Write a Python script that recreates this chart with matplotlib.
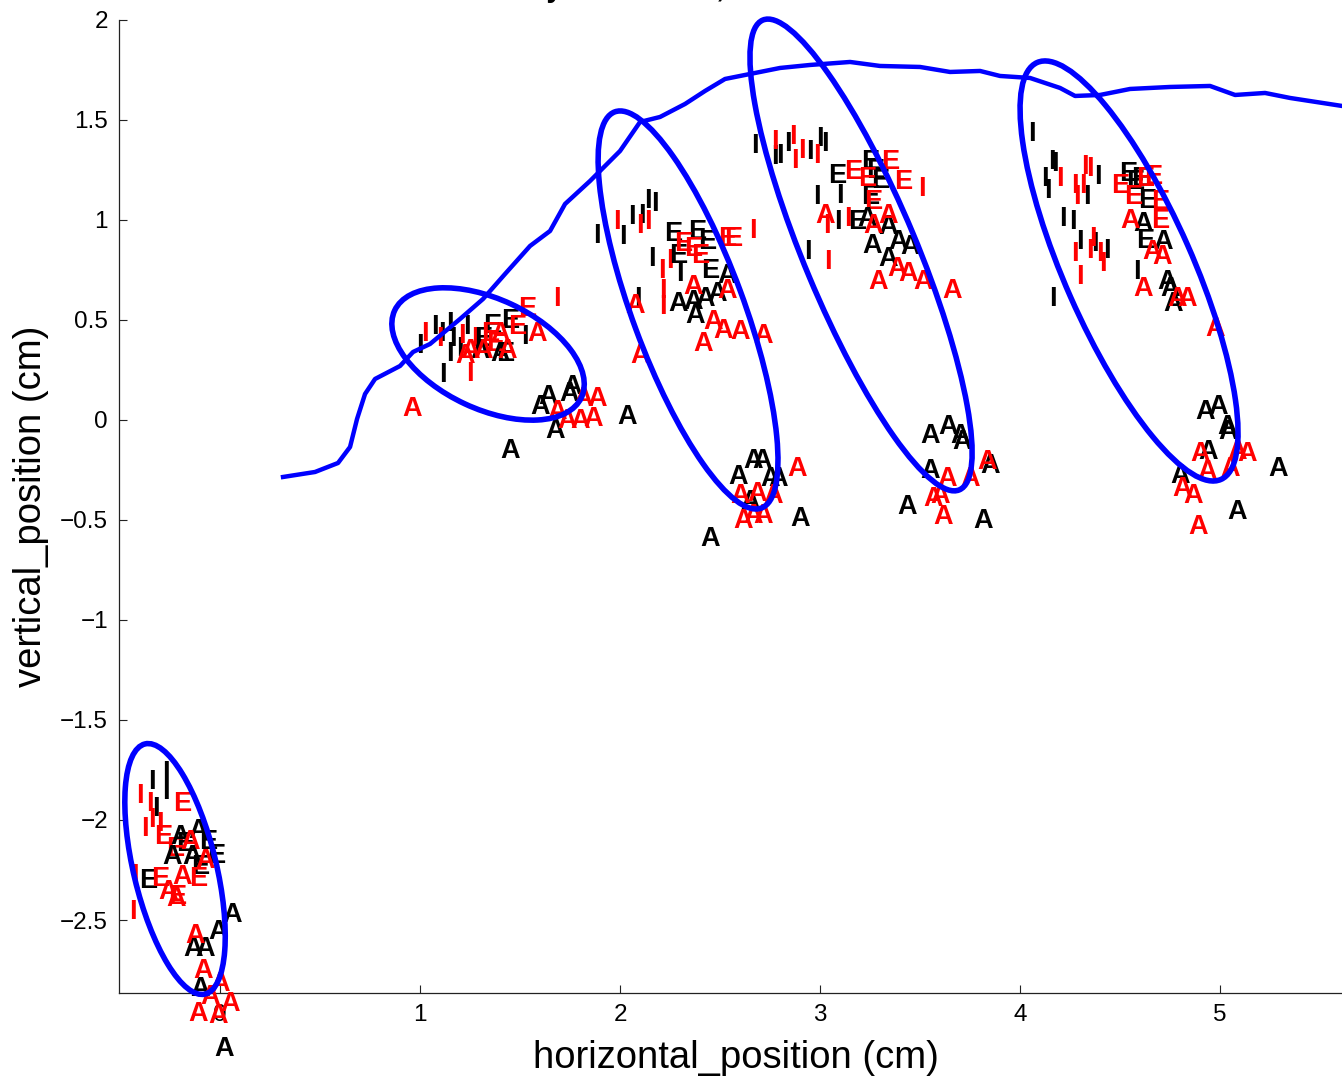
import numpy as np
import matplotlib
matplotlib.use("Agg")
import matplotlib.pyplot as plt
from matplotlib.patches import Ellipse

plt.rcParams['font.family'] = ['Liberation Sans', 'DejaVu Sans']

# blue tongue-body trajectory
traj_x = [0.315, 0.475, 0.59, 0.65, 0.685, 0.725, 0.775, 0.90, 0.965, 1.05, 1.20, 1.315,
          1.425, 1.55, 1.65, 1.725, 1.85, 2.0, 2.10, 2.20, 2.325, 2.425, 2.525, 2.65,
          2.80, 2.95, 3.15, 3.30, 3.50, 3.65, 3.80, 3.90, 4.05, 4.20, 4.275, 4.40,
          4.55, 4.75, 4.95, 5.075, 5.225, 5.35, 5.61, 5.70]
traj_y = [-0.285, -0.26, -0.215, -0.135, 0.005, 0.13, 0.205, 0.27, 0.34, 0.38, 0.505, 0.605,
          0.73, 0.87, 0.945, 1.08, 1.195, 1.345, 1.49, 1.515, 1.58, 1.645, 1.705, 1.73,
          1.76, 1.775, 1.79, 1.77, 1.765, 1.74, 1.745, 1.72, 1.71, 1.66, 1.62, 1.625,
          1.655, 1.665, 1.67, 1.625, 1.635, 1.61, 1.57, 1.56]

# ellipses: centre, semi-axes, angle (deg)
ell_cx = [-0.225, 1.34, 2.34, 3.205, 4.545]
ell_cy = [-2.245, 0.33, 0.55, 0.825, 0.745]
ell_a = [0.643, 0.515, 1.056, 1.273, 1.139]
ell_b = [0.207, 0.275, 0.278, 0.281, 0.32]
ell_ang = [103.5, -25.0, 110.3, 112.7, 113.8]

black_I = [(-0.34, -1.81), (-0.27, -1.765), (-0.27, -1.86), (-0.32, -1.945),
           (1.0, 0.37), (1.075, 0.465), (1.11, 0.43), (1.15, 0.48), (1.165, 0.405), (1.235, 0.465),
           (1.115, 0.225), (1.15, 0.33), (1.525, 0.415), (1.2, 0.355),
           (1.885, 0.92), (2.015, 0.915), (2.06, 1.015), (2.11, 1.02), (2.14, 1.095), (2.175, 1.08),
           (2.16, 0.805), (2.09, 0.605), (2.30, 0.73),
           (2.675, 1.37), (2.775, 1.315), (2.80, 1.32), (2.84, 1.38), (2.95, 1.34), (3.0, 1.405),
           (3.025, 1.38), (2.985, 1.115), (3.10, 1.12), (3.09, 0.99), (2.94, 0.84),
           (4.06, 1.43), (4.16, 1.29), (4.175, 1.28), (4.125, 1.205), (4.14, 1.145), (4.335, 1.115),
           (4.39, 1.215), (4.215, 1.005), (4.265, 0.99), (4.30, 0.89), (4.375, 0.88), (4.435, 0.845),
           (4.585, 0.74), (4.165, 0.605)]
red_I = [(-0.40, -1.88), (-0.35, -1.92), (-0.375, -2.045), (-0.30, -2.02), (-0.425, -2.28),
         (-0.435, -2.46), (-0.34, -2.0),
         (1.025, 0.43), (1.10, 0.405), (1.21, 0.42), (1.25, 0.23), (1.685, 0.605), (1.275, 0.405),
         (1.985, 0.99), (2.10, 0.97), (2.14, 0.99), (2.21, 0.745), (2.215, 0.645), (2.215, 0.565),
         (2.665, 0.945), (2.25, 0.795),
         (2.775, 1.39), (2.865, 1.415), (2.875, 1.295), (2.91, 1.345), (2.985, 1.32), (3.51, 1.155),
         (3.035, 0.97), (3.14, 1.005), (3.04, 0.79),
         (4.20, 1.205), (4.275, 1.17), (4.325, 1.265), (4.35, 1.255), (4.315, 1.17), (4.285, 1.115),
         (4.275, 0.83), (4.35, 0.845), (4.365, 0.905), (4.40, 0.83), (4.415, 0.78), (4.30, 0.715)]
black_E = [(-0.06, -2.11), (-0.02, -2.18), (-0.10, -2.235), (-0.36, -2.305), (-0.175, -2.12),
           (1.36, 0.47), (1.45, 0.495), (1.425, 0.33), (1.315, 0.405),
           (2.265, 0.93), (2.385, 0.94), (2.29, 0.82), (2.435, 0.89), (2.45, 0.745),
           (3.085, 1.22), (3.25, 1.29), (3.30, 1.195), (3.25, 1.115), (3.275, 1.245), (3.185, 0.99),
           (4.54, 1.23), (4.575, 1.19), (4.635, 1.095), (4.60, 1.205), (4.625, 0.895)]
red_E = [(-0.19, -1.92), (-0.285, -2.085), (-0.225, -2.145), (-0.30, -2.295), (-0.215, -2.385),
         (-0.11, -2.295),
         (1.535, 0.555), (1.485, 0.465), (1.35, 0.43), (1.375, 0.38),
         (2.315, 0.88), (2.365, 0.855), (2.40, 0.82), (2.535, 0.905), (2.565, 0.905),
         (3.165, 1.24), (3.235, 1.205), (3.35, 1.29), (3.415, 1.19), (3.265, 1.09),
         (4.50, 1.17), (4.625, 1.205), (4.665, 1.215), (4.565, 1.115), (4.70, 1.09), (4.70, 0.995)]
black_A = [(-0.20, -2.085), (-0.11, -2.055), (-0.24, -2.185), (-0.14, -2.185), (-0.135, -2.645),
           (-0.075, -2.645), (-0.01, -2.56), (0.06, -2.475), (-0.10, -2.845), (0.02, -3.145),
           (1.30, 0.345), (1.40, 0.33), (1.64, 0.115), (1.60, 0.065), (1.76, 0.165), (1.745, 0.13),
           (1.675, -0.055), (1.45, -0.155), (2.035, 0.015),
           (2.535, 0.72), (2.29, 0.58), (2.365, 0.59), (2.425, 0.605), (2.485, 0.63), (2.375, 0.52),
           (2.665, -0.205), (2.71, -0.205), (2.59, -0.285), (2.75, -0.295), (2.79, -0.295),
           (2.65, -0.41), (2.90, -0.495), (2.45, -0.595),
           (3.235, 1.005), (3.34, 0.965), (3.26, 0.87), (3.39, 0.89), (3.45, 0.865), (3.34, 0.805),
           (3.55, -0.08), (3.64, -0.035), (3.70, -0.08), (3.71, -0.11), (3.85, -0.23), (3.55, -0.255),
           (3.435, -0.435), (3.815, -0.505),
           (4.615, 0.98), (4.715, 0.89), (4.735, 0.69), (4.75, 0.655), (4.765, 0.58), (4.925, 0.04),
           (4.99, 0.065), (5.035, -0.035), (5.04, -0.06), (4.94, -0.16), (4.80, -0.28),
           (5.085, -0.46), (5.29, -0.245)]
red_A = [(-0.15, -2.11), (-0.19, -2.285), (-0.26, -2.36), (-0.22, -2.395), (-0.125, -2.58),
         (-0.085, -2.755), (0.0, -2.82), (0.05, -2.92), (-0.05, -2.885), (-0.11, -2.97),
         (-0.01, -2.98), (-0.075, -2.205),
         (1.315, 0.345), (1.435, 0.345), (1.40, 0.43), (1.25, 0.345), (1.585, 0.43), (1.225, 0.32),
         (0.96, 0.055), (1.815, 0.105), (1.885, 0.105), (1.735, -0.005), (1.80, -0.005),
         (1.865, 0.005), (1.685, 0.04),
         (2.365, 0.665), (2.535, 0.645), (2.075, 0.57), (2.465, 0.49), (2.515, 0.445), (2.60, 0.44),
         (2.715, 0.42), (2.415, 0.38), (2.10, 0.32), (2.885, -0.245), (2.60, -0.38), (2.685, -0.37),
         (2.765, -0.38), (2.615, -0.505), (2.665, -0.48), (2.715, -0.48),
         (3.025, 1.02), (3.265, 0.97), (3.34, 1.02), (3.385, 0.755), (3.44, 0.73), (3.515, 0.69),
         (3.29, 0.69), (3.66, 0.645), (3.835, -0.21), (3.635, -0.295), (3.75, -0.295),
         (3.565, -0.395), (3.60, -0.38), (3.615, -0.485),
         (4.55, 0.995), (4.66, 0.84), (4.71, 0.815), (4.615, 0.655), (4.785, 0.605), (4.835, 0.605),
         (4.975, 0.455), (4.90, -0.17), (5.085, -0.16), (5.135, -0.17), (4.935, -0.26),
         (5.05, -0.245), (4.81, -0.345), (4.865, -0.38), (4.89, -0.535)]

fig = plt.figure(figsize=(13.42, 10.79), dpi=100)
ax = fig.add_axes([0.0887, 0.0797, 0.9188, 0.9018])

groups = [(black_I, 'I', 'black'), (red_I, 'I', 'red'),
          (black_E, 'E', 'black'), (red_E, 'E', 'red'),
          (black_A, 'A', 'black'), (red_A, 'A', 'red')]
for pts, letter, col in groups:
    for x, y in pts:
        ax.text(x, y, letter, color=col, fontsize=19.5, fontweight='bold',
                ha='center', va='center', clip_on=False, zorder=3)

ax.plot(traj_x, traj_y, color='#0000ff', lw=3.2, zorder=4, clip_on=False)
for cx, cy, a, b, ang in zip(ell_cx, ell_cy, ell_a, ell_b, ell_ang):
    ax.add_patch(Ellipse((cx, cy), 2 * a, 2 * b, angle=ang, fill=False,
                         edgecolor='#0000ff', lw=4, zorder=5, clip_on=False))

ax.set_xlim(-0.505, 5.66)
ax.set_ylim(-2.865, 2.0)
ax.set_xticks([0, 1, 2, 3, 4, 5])
ax.set_yticks(np.arange(-2.5, 2.01, 0.5))
ax.set_yticklabels(['\u22122.5', '\u22122', '\u22121.5', '\u22121', '\u22120.5',
                    '0', '0.5', '1', '1.5', '2'])
ax.tick_params(direction='in', length=6, width=0.8, labelsize=17.5, colors='#222222',
               labelcolor='black', pad=8)
for s in ['top', 'right']:
    ax.spines[s].set_visible(False)
for s in ['left', 'bottom']:
    ax.spines[s].set_color('#222222')
    ax.spines[s].set_linewidth(0.9)

ax.set_xlabel('horizontal_position (cm)', fontsize=27.5, labelpad=10)
ax.set_ylabel('vertical_position (cm)', fontsize=27.5, labelpad=8)

fig.text(0.297, 1.0028, 'Articulatory movement, all tokens', fontsize=21,
         fontweight='bold', ha='left', va='baseline')

fig.savefig('out.png', dpi=100)
